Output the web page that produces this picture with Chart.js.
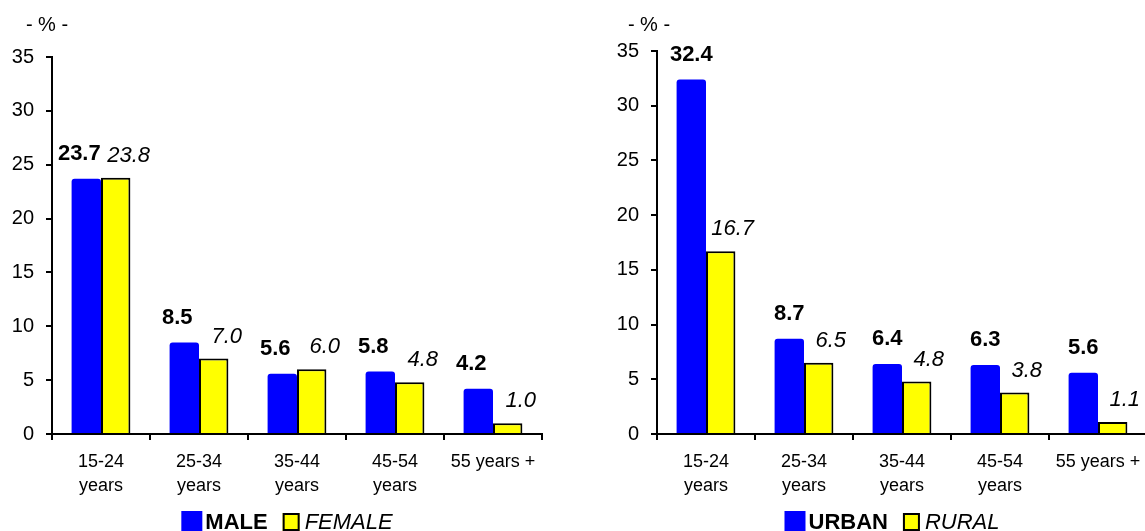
<!DOCTYPE html>
<html>
<head>
<meta charset="utf-8">
<script src="https://cdn.jsdelivr.net/npm/chart.js@4"></script>
<style>
  html, body { margin: 0; padding: 0; background: #fff; overflow: hidden; }
  body { width: 1145px; height: 531px; position: relative; }
  canvas { position: absolute; top: 0; }
  #sexChart { left: 0; }
  #areaChart { left: 572px; }
</style>
</head>
<body>
<canvas id="sexChart" width="572" height="531"></canvas>
<canvas id="areaChart" width="600" height="531"></canvas>
<script>
// Categories and values
const ageGroups = [['15-24', 'years'], ['25-34', 'years'], ['35-44', 'years'], ['45-54', 'years'], '55 years +'];
const male = [23.7, 8.5, 5.6, 5.8, 4.2];
const female = [23.8, 7.0, 6.0, 4.8, 1.0];
const urban = [32.4, 8.7, 6.4, 6.3, 5.6];
const rural = [16.7, 6.5, 4.8, 3.8, 1.1];
const seriesNames = [['MALE', 'FEMALE'], ['URBAN', 'RURAL']];
const unitLabel = '- % -';
const yMax = 35;
const yStep = 5;

const FONT = '"Liberation Sans", Arial, sans-serif';
const BLUE = '#0000FF';
const YELLOW = '#FFFF00';

// value labels, unit label and legend drawn on top of the bars
const extras = {
    id: 'extras',
    afterDatasetsDraw(chart, args, opts) {
        const ctx = chart.ctx;
        const area = chart.chartArea;
        ctx.save();
        ctx.fillStyle = '#000';
        ctx.textAlign = 'center';
        ctx.textBaseline = 'middle';

        chart.data.datasets.forEach((ds, i) => {
            const meta = chart.getDatasetMeta(i);
            ctx.font = (i === 0 ? 'bold ' : 'italic ') + '22px ' + FONT;
            meta.data.forEach((bar, j) => {
                ctx.fillText(ds.data[j].toFixed(1), bar.x + opts.dx[i], bar.y - opts.lift[i]);
            });
        });

        ctx.font = '20px ' + FONT;
        ctx.fillText(unitLabel, area.left - opts.unitShift, 25);

        // legend
        ctx.textAlign = 'left';
        ctx.textBaseline = 'alphabetic';
        const names = chart.data.datasets.map(d => d.label);
        ctx.font = 'bold 22px ' + FONT;
        const w0 = ctx.measureText(names[0]).width;
        ctx.font = 'italic 22px ' + FONT;
        const w1 = ctx.measureText(names[1]).width;
        const total = 21 + 3 + w0 + 15 + 17 + 5 + w1;
        let x = (area.left + area.right) / 2 - 10 - total / 2;
        ctx.fillStyle = BLUE;
        ctx.fillRect(x, 511, 21, 21);
        x += 24;
        ctx.fillStyle = '#000';
        ctx.font = 'bold 22px ' + FONT;
        ctx.fillText(names[0], x, 529);
        x += w0 + 15;
        ctx.fillStyle = YELLOW;
        ctx.fillRect(x, 513, 17, 18);
        ctx.strokeStyle = '#000';
        ctx.lineWidth = 2;
        ctx.strokeRect(x + 1, 514, 15, 16);
        x += 22;
        ctx.fillStyle = '#000';
        ctx.font = 'italic 22px ' + FONT;
        ctx.fillText(names[1], x, 529);
        ctx.restore();
    }
};

function makeChart(id, names, first, second, cfg) {
    return new Chart(document.getElementById(id), {
        type: 'bar',
        data: {
            labels: ageGroups,
            datasets: [{
                label: names[0],
                data: first,
                backgroundColor: BLUE,
                borderWidth: 0,
                borderRadius: 3,
                categoryPercentage: 0.6,
                barPercentage: 1.0
            }, {
                label: names[1],
                data: second,
                backgroundColor: YELLOW,
                borderColor: '#000',
                borderWidth: 2,
                categoryPercentage: 0.6,
                barPercentage: 1.0
            }]
        },
        options: {
            responsive: false,
            animation: false,
            layout: { padding: { top: cfg.top, right: cfg.right, left: 0, bottom: 0 } },
            plugins: {
                legend: { display: false },
                tooltip: { enabled: false },
                extras: { dx: cfg.dx, lift: cfg.lift, unitShift: cfg.unitShift }
            },
            scales: {
                x: {
                    grid: { drawOnChartArea: false, drawTicks: true, tickLength: 6, color: '#000', lineWidth: 2, offset: true },
                    border: { color: '#000', width: 2 },
                    ticks: { color: '#000', font: { family: FONT, size: 18, lineHeight: 1.33 }, padding: 10, maxRotation: 0, autoSkip: false },
                    afterFit(scale) { scale.height = 531 - 434; }
                },
                y: {
                    min: 0,
                    max: yMax,
                    grid: { drawOnChartArea: false, drawTicks: true, tickLength: 6, color: '#000', lineWidth: 2 },
                    border: { color: '#000', width: 2 },
                    ticks: { stepSize: yStep, color: '#000', font: { family: FONT, size: 20 }, padding: 12 },
                    afterFit(scale) { scale.width = cfg.axisWidth; }
                }
            }
        },
        plugins: [extras]
    });
}

makeChart('sexChart', seriesNames[0], male, female,
    { top: 57, right: 30, axisWidth: 52, dx: [-7, 13], lift: [25, 22], unitShift: 5 });
makeChart('areaChart', seriesNames[1], urban, rural,
    { top: 51, right: 25, axisWidth: 85, dx: [0, 12], lift: [25, 22], unitShift: 8 });
</script>
</body>
</html>
